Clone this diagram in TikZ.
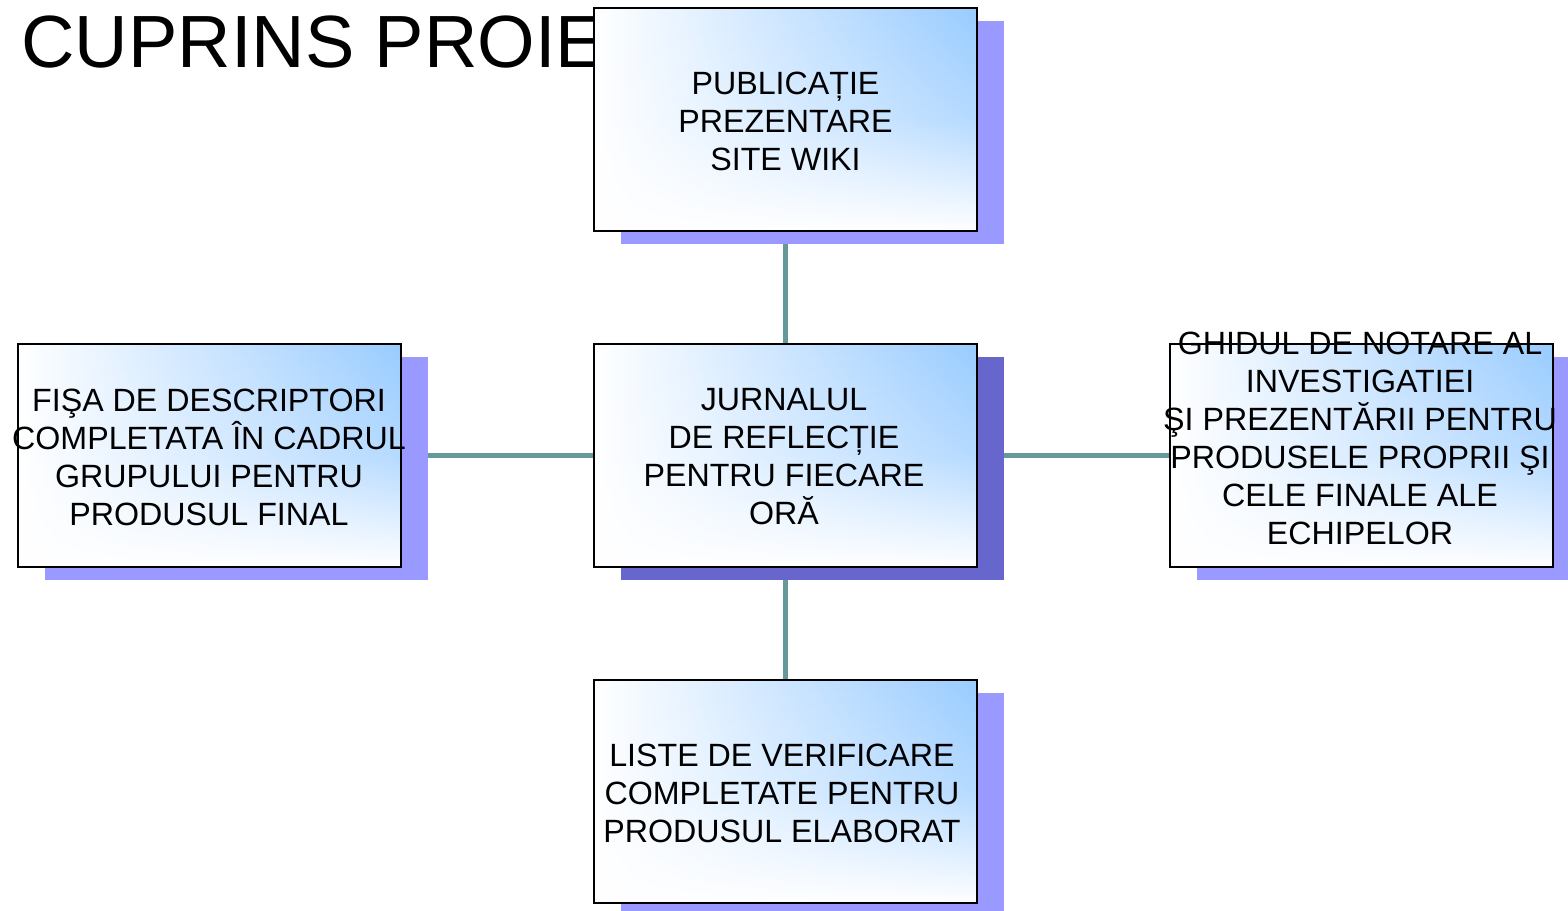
\documentclass[tikz,border=0pt]{standalone}
\usepackage{fontspec}
\setmainfont{Liberation Sans}
\usepackage{tikz}
\usetikzlibrary{shadows,backgrounds,fadings}
\definecolor{boxblue}{RGB}{153,204,255}
\definecolor{shadelilac}{RGB}{153,153,255}
\definecolor{shadeviolet}{RGB}{102,102,204}
\definecolor{linkteal}{RGB}{102,153,153}
\tikzfading[name=panelfade,top color=transparent!100,bottom color=transparent!0,middle color=transparent!72]

\begin{document}
\begin{tikzpicture}[x=0.5pt,y=-0.5pt,
  panel/.style={draw=black,line width=1pt,minimum width=191.5pt,minimum height=111.5pt,inner sep=0pt,
    left color=white,right color=boxblue,
    path picture={\fill[white,path fading=panelfade] (path picture bounding box.south west) rectangle (path picture bounding box.north east);},
    general shadow={shadow xshift=13.5pt,shadow yshift=-6.5pt,fill=#1}},
  panel/.default=shadelilac,
  paneltext/.style={align=center,font=\fontsize{16.1}{19}\selectfont,inner sep=0pt},
  link/.style={draw=linkteal,line width=2.5pt}]
  \useasboundingbox (0,0) rectangle (1568,910);
  \node[anchor=base west,inner sep=0pt,font=\fontsize{37}{44}\selectfont] (title) at (21,67) {CUPRINS PROIECT};
  % the five panels
  \node[panel] (pub) at (785.5,119.5) {};
  \node[panel=shadeviolet] (jurnal) at (785.5,455.5) {};
  \node[panel] (fisa) at (209,455.5) {};
  \node[panel] (ghid) at (1361.5,455.5) {};
  \node[panel] (liste) at (785.5,791.5) {};
  \node[paneltext] (pubtext) at (785.5,121.5) {PUBLICAȚIE\\PREZENTARE\\SITE WIKI};
  \node[paneltext] (jurnaltext) at (784,457) {JURNALUL\\DE REFLECȚIE\\PENTRU FIECARE\\ORĂ};
  \node[paneltext] (fisatext) at (209,457) {FIŞA DE DESCRIPTORI\\COMPLETATA ÎN CADRUL\\GRUPULUI PENTRU\\PRODUSUL FINAL};
  \node[paneltext] (ghidtext) at (1360,438) {GHIDUL DE NOTARE AL\\INVESTIGATIEI\\ŞI PREZENTĂRII PENTRU\\PRODUSELE PROPRII ŞI\\CELE FINALE ALE\\ECHIPELOR};
  \node[paneltext] (listetext) at (782,793) {LISTE DE VERIFICARE\\COMPLETATE PENTRU\\PRODUSUL ELABORAT};
  % connectors behind panels and shadows
  \begin{scope}[on background layer]
    \draw[link] (pub) -- (jurnal);
    \draw[link] (fisa) -- (jurnal);
    \draw[link] (jurnal) -- (ghid);
    \draw[link] (jurnal) -- (liste);
  \end{scope}
\end{tikzpicture}
\end{document}
